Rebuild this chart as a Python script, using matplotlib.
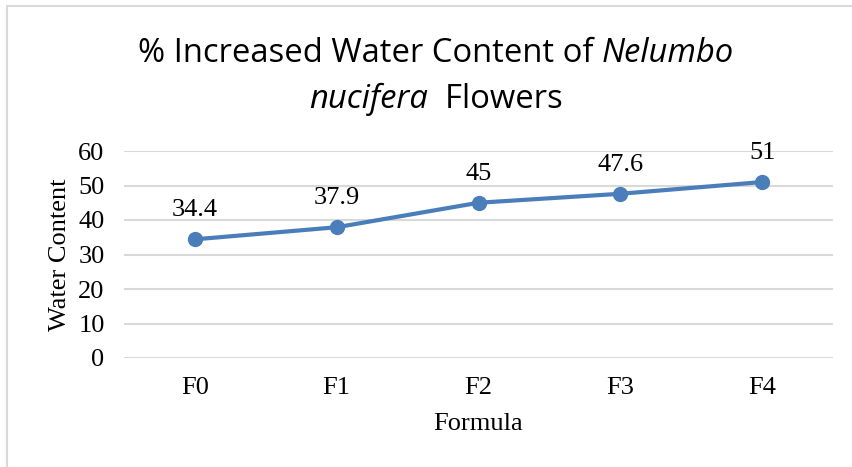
import matplotlib
matplotlib.use("Agg")
import matplotlib.pyplot as plt
from matplotlib.patches import Rectangle

categories = ["F0", "F1", "F2", "F3", "F4"]
water_content = [34.4, 37.9, 45, 47.6, 51]
y_ticks = [0, 10, 20, 30, 40, 50, 60]

title_line1 = [("% Increased Water Content of ", "normal"), ("Nelumbo", "italic")]
title_line2 = [("nucifera", "italic"), ("  Flowers", "normal")]

W, H = 852, 467
serif = ["Liberation Serif", "DejaVu Serif"]
title_font = ["Open Sans", "DejaVu Sans"]
line_color = "#4a7ebb"
fs = 19

fig = plt.figure(figsize=(W / 100, H / 100), dpi=100)
fig.patch.set_facecolor("white")

# chart border (runs off the right and bottom edge)
fig.patches.append(Rectangle((7 / W, -0.2), 1.5, 1.2 - 6 / H, transform=fig.transFigure,
                             fill=False, edgecolor="#d9d9d9", linewidth=1.5))

ax = fig.add_axes([124 / W, 1 - 358 / H, (833 - 124) / W, (358 - 151) / H])
x = list(range(len(categories)))
ax.plot(x, water_content, color=line_color, linewidth=3, marker="o", markersize=10,
        solid_capstyle="round", zorder=3)
for xi, v in zip(x, water_content):
    ax.annotate(f"{v:g}", (xi, v), xytext=(0, 21), textcoords="offset points",
                ha="center", va="center", fontsize=fs, family=serif)

ax.set_xlim(-0.5, len(categories) - 0.5)
ax.set_ylim(0, 60)
ax.set_yticks(y_ticks)
ax.set_xticks(x)
ax.set_xticklabels(categories)
ax.yaxis.grid(True, color="#d9d9d9", linewidth=1.5)
ax.set_axisbelow(True)
for s in ax.spines.values():
    s.set_visible(False)
ax.tick_params(length=0, labelsize=fs, pad=14)
for lab in ax.get_xticklabels() + ax.get_yticklabels():
    lab.set_family(serif)
ax.set_xlabel("Formula", fontsize=fs, family=serif, labelpad=10)
ax.set_ylabel("Water Content", fontsize=fs, family=serif, labelpad=5)


def draw_title_line(parts, y_px, center_px, size):
    renderer = fig.canvas.get_renderer()
    texts = []
    xpos = 0
    for s, style in parts:
        t = fig.text(xpos / W, 1 - y_px / H, s, fontsize=size, style=style,
                     family=title_font, va="baseline", ha="left")
        texts.append(t)
        xpos += t.get_window_extent(renderer).width
    xx = center_px - xpos / 2
    for t in texts:
        t.set_x(xx / W)
        xx += t.get_window_extent(renderer).width


draw_title_line(title_line1, 62, 436, 23.6)
draw_title_line(title_line2, 108, 436, 23.6)

fig.savefig("out.png", dpi=100)
